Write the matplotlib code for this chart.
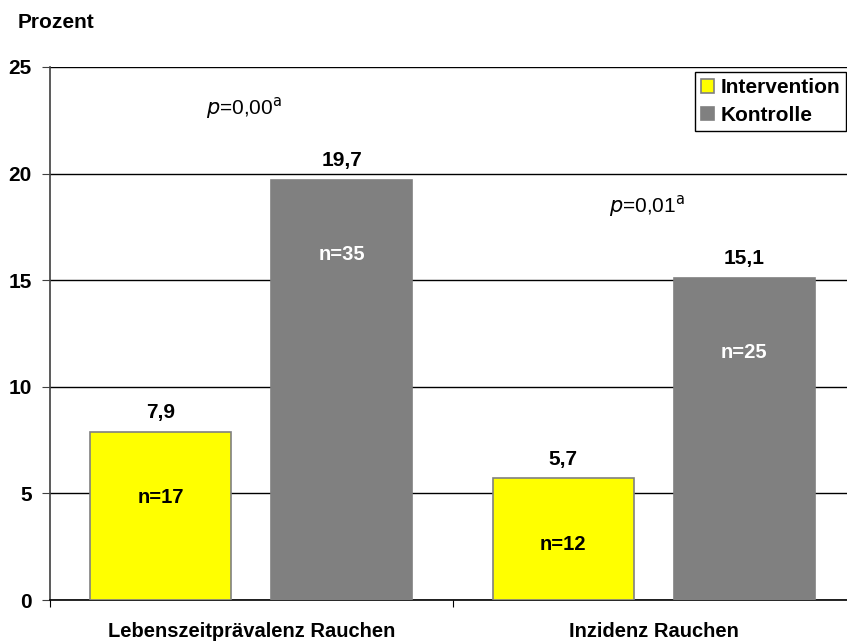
import numpy as np
from matplotlib import pyplot as plt

plt.rcParams['font.family'] = ['Liberation Sans', 'DejaVu Sans']

# data
categories = ['Lebenszeitprävalenz Rauchen', 'Inzidenz Rauchen']
series_names = ['Intervention', 'Kontrolle']
intervention = [7.9, 5.7]
kontrolle = [19.7, 15.1]
n_intervention = [17, 12]
n_kontrolle = [35, 25]
p_labels = ['0,00', '0,01']
p_heights = [23.1, 18.5]

fig = plt.figure(figsize=(8.47, 6.41), dpi=100)
ax = fig.add_axes([50 / 847, 41 / 641, 805 / 847, 533 / 641])

x = np.arange(len(categories)) + 0.5
offset = 0.225
width = 0.35

ax.bar(x - offset, intervention, width, color='#FFFF00', edgecolor='#808080',
       linewidth=1.2, label=series_names[0], zorder=3)
ax.bar(x + offset, kontrolle, width, color='#808080', edgecolor='#808080',
       linewidth=1.2, label=series_names[1], zorder=3)

def fmt(v):
    return f"{v:.1f}".replace('.', ',')

for xi, v, n in zip(x - offset, intervention, n_intervention):
    ax.text(xi, v + 0.45, fmt(v), ha='center', va='bottom', fontsize=15, fontweight='bold')
    ax.text(xi, v - 3.1, f"n={n}", ha='center', va='center', fontsize=14.5,
            fontweight='bold', color='black', zorder=4)
for xi, v, n in zip(x + offset, kontrolle, n_kontrolle):
    ax.text(xi, v + 0.45, fmt(v), ha='center', va='bottom', fontsize=15, fontweight='bold')
    ax.text(xi, v - 3.5, f"n={n}", ha='center', va='center', fontsize=14.5,
            fontweight='bold', color='white', zorder=4)

for xi, p, h in zip(x, p_labels, p_heights):
    ax.text(xi - 0.112, h, r'$\it{p}$' + f'={p}' + r'$^{\rm a}$', ha='left', va='center',
            fontsize=15)

ax.set_xlim(0, 2)
ax.set_ylim(0, 25)
ax.set_yticks([0, 5, 10, 15, 20, 25])
ax.set_yticklabels(['0', '5', '10', '15', '20', '25'], fontsize=15, fontweight='bold')
ax.yaxis.grid(True, color='black', linewidth=1.0, zorder=0)
ax.set_axisbelow(True)

ax.set_xticks([0, 1, 2])
ax.set_xticklabels([])
ax.set_xticks(x, minor=True)
ax.set_xticklabels(categories, minor=True, fontsize=14.5, fontweight='bold')
ax.tick_params(axis='x', which='minor', length=0, pad=16)
ax.tick_params(axis='x', which='major', length=5, color='black', direction='out')
ax.tick_params(axis='y', length=6, color='#404040', pad=7)

for s in ['top', 'right']:
    ax.spines[s].set_visible(False)
ax.spines['left'].set_color('#404040')
ax.spines['left'].set_linewidth(1.2)
ax.spines['bottom'].set_color('black')
ax.spines['bottom'].set_linewidth(1.2)

leg = ax.legend(loc='upper right', bbox_to_anchor=(846 / 847, 1 - 72 / 641),
                bbox_transform=fig.transFigure, prop={'weight': 'bold', 'size': 15},
                frameon=True, fancybox=False, edgecolor='black', framealpha=1,
                handlelength=0.6, handleheight=0.6, handletextpad=0.3,
                borderpad=0.3, labelspacing=0.4, borderaxespad=0)
leg.get_frame().set_linewidth(1.0)
for h in leg.legend_handles:
    h.set_edgecolor('#808080')

fig.text(18 / 847, 1 - 22 / 641, 'Prozent', fontsize=15, fontweight='bold',
         ha='left', va='center')

fig.savefig('out.png', dpi=100)
